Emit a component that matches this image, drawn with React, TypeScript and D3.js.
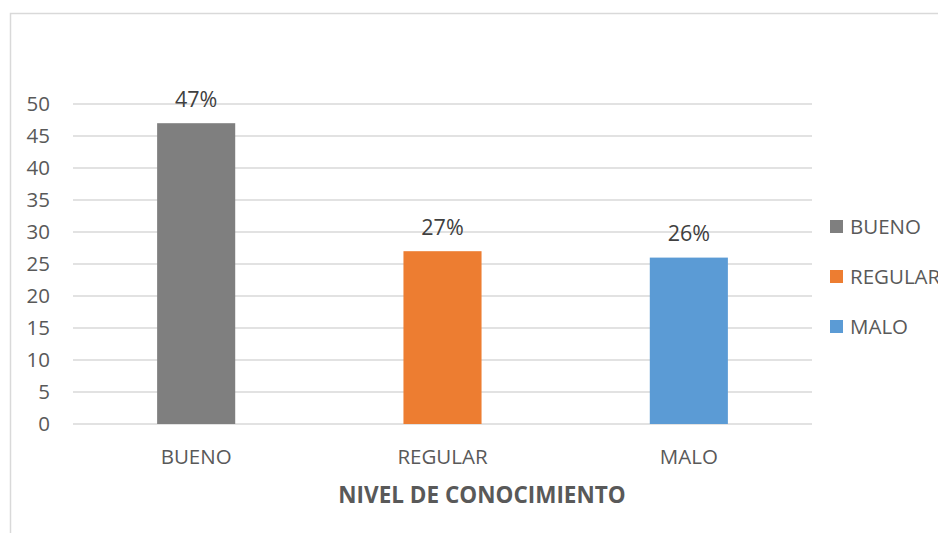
import React from "react";
import * as d3 from "d3";

const categories = ["BUENO", "REGULAR", "MALO"];
const values = [47, 27, 26];
const labels = ["47%", "27%", "26%"];
const colors = ["#7f7f7f", "#ed7d31", "#5b9bd5"];
const yTicks = [0, 5, 10, 15, 20, 25, 30, 35, 40, 45, 50];
const xTitle = "NIVEL DE CONOCIMIENTO";

export default function App() {
  const W = 938, H = 533;
  const left = 73, right = 812, top = 104, bottom = 424;
  const x = d3.scaleBand<string>().domain(categories).range([left, right]);
  const y = d3.scaleLinear().domain([0, 50]).range([bottom, top]);
  const barW = x.bandwidth() * 0.317;
  const font = "'Open Sans', sans-serif";
  const txt = "#595959";
  const fs = 20.5;
  return (
    <svg width={W} height={H} style={{ position: "absolute", left: 0, top: 0 }}>
      <rect x={0} y={0} width={W} height={H} fill="#fff" />
      <rect x={10.5} y={13.5} width={1000} height={1000} fill="none" stroke="#d9d9d9" strokeWidth={1.5} />
      {yTicks.map((t) => (
        <g key={t}>
          <line x1={left} x2={right} y1={y(t)} y2={y(t)} stroke="#d9d9d9" strokeWidth={1.5} />
          <text x={50} y={y(t)} dy="0.36em" textAnchor="end" fontFamily={font} fontSize={fs} fill={txt}>{t}</text>
        </g>
      ))}
      {categories.map((c, i) => {
        const cx = (x(c) as number) + x.bandwidth() / 2;
        return (
          <g key={c}>
            <rect x={cx - barW / 2} y={y(values[i])} width={barW} height={y(0) - y(values[i])} fill={colors[i]} />
            <text x={cx} y={y(values[i]) - 16.5} textAnchor="middle" fontFamily={font} fontSize={21.5} fill="#404040">{labels[i]}</text>
            <text x={cx} y={464} textAnchor="middle" fontFamily={font} fontSize={fs} fill={txt}>{c}</text>
          </g>
        );
      })}
      <text x={482} y={503} textAnchor="middle" fontFamily={font} fontSize={22.5} fontWeight="bold" fill={txt}>{xTitle}</text>
      {categories.map((c, i) => (
        <g key={"l" + c}>
          <rect x={830} y={220 + i * 50} width={13} height={13} fill={colors[i]} />
          <text x={850} y={226.5 + i * 50} dy="0.36em" fontFamily={font} fontSize={fs} fill={txt}>{c}</text>
        </g>
      ))}
    </svg>
  );
}
